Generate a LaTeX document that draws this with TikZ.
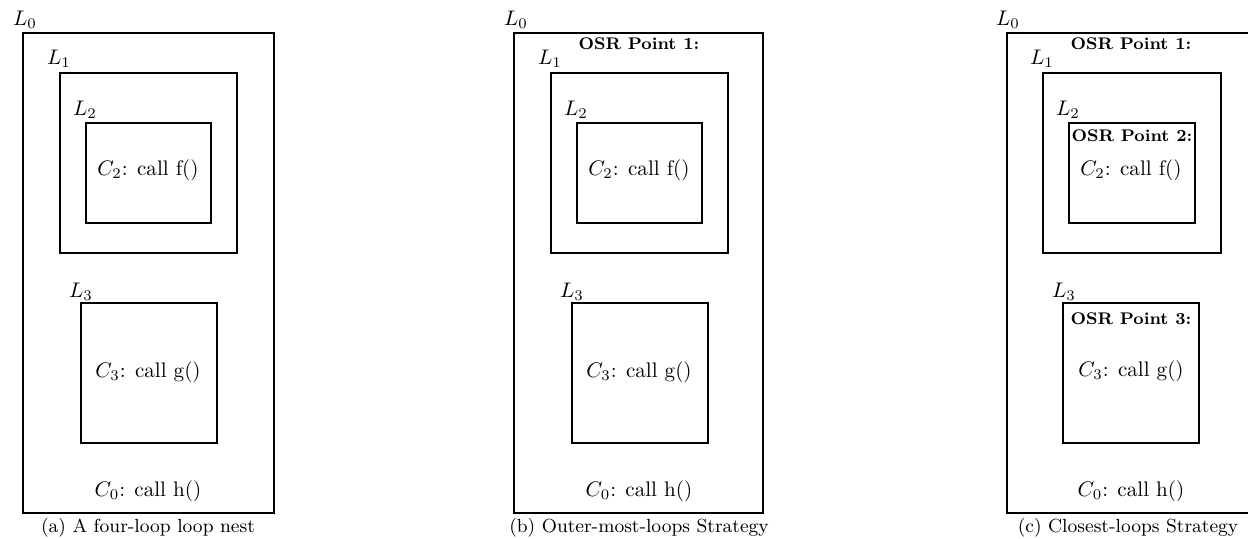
\documentclass[tikz,border=0pt]{standalone}
\usepackage{amsmath}
\usepackage{amssymb}
\usepackage{tikz}

\begin{document}
\begin{tikzpicture}[x=0.01667cm,y=-0.01667cm,
    loopbox/.style={thick,black},
    osr/.style={font=\footnotesize\bfseries},
    capt/.style={font=\small}]
  \clip (0,0) rectangle (1248,538);

  % (a) the loop nest
  \begin{scope}
    \draw[loopbox] (23,33) rectangle (274,513);
    \draw[loopbox] (60,73) rectangle (237,253);
    \draw[loopbox] (86,123) rectangle (211,223);
    \draw[loopbox] (81,303) rectangle (217,443);
    \node (la0) at (25,20) {$L_0$};
    \node (la1) at (59,59) {$L_1$};
    \node (la2) at (85,110) {$L_2$};
    \node (la3) at (81,292) {$L_3$};
    \node (ca2) at (148,170) {$C_2$: call f()};
    \node (ca3) at (148,372) {$C_3$: call g()};
    \node (ca0) at (148,491) {$C_0$: call h()};
    \node[capt] (capa) at (148,528) {(a) A four-loop loop nest};
  \end{scope}

  % (b) outer-most loops
  \begin{scope}[shift={(491,0)}]
    \draw[loopbox] (23,33) rectangle (272,513);
    \draw[loopbox] (60,73) rectangle (237,253);
    \draw[loopbox] (86,123) rectangle (211,223);
    \draw[loopbox] (81,303) rectangle (217,443);
    \node (lb0) at (25,20) {$L_0$};
    \node (lb1) at (59,59) {$L_1$};
    \node (lb2) at (85,110) {$L_2$};
    \node (lb3) at (81,292) {$L_3$};
    \node[osr] (ob1) at (148,44) {OSR Point 1:};
    \node (cb2) at (148,170) {$C_2$: call f()};
    \node (cb3) at (148,372) {$C_3$: call g()};
    \node (cb0) at (148,491) {$C_0$: call h()};
    \node[capt] (capb) at (148,528) {(b) Outer-most-loops Strategy};
  \end{scope}

  % (c) closest loops
  \begin{scope}[shift={(983,0)}]
    \draw[loopbox] (24,33) rectangle (274,513);
    \draw[loopbox] (60,73) rectangle (238,253);
    \draw[loopbox] (86,123) rectangle (212,223);
    \draw[loopbox] (80,303) rectangle (216,443);
    \node (lc0) at (25,20) {$L_0$};
    \node (lc1) at (59,59) {$L_1$};
    \node (lc2) at (85,110) {$L_2$};
    \node (lc3) at (81,292) {$L_3$};
    \node[osr] (oc1) at (148,44) {OSR Point 1:};
    \node[osr] (oc2) at (149,136) {OSR Point 2:};
    \node[osr] (oc3) at (148,319) {OSR Point 3:};
    \node (cc2) at (148,170) {$C_2$: call f()};
    \node (cc3) at (148,371) {$C_3$: call g()};
    \node (cc0) at (148,491) {$C_0$: call h()};
    \node[capt] (capc) at (145,528) {(c) Closest-loops Strategy};
  \end{scope}
\end{tikzpicture}
\end{document}
